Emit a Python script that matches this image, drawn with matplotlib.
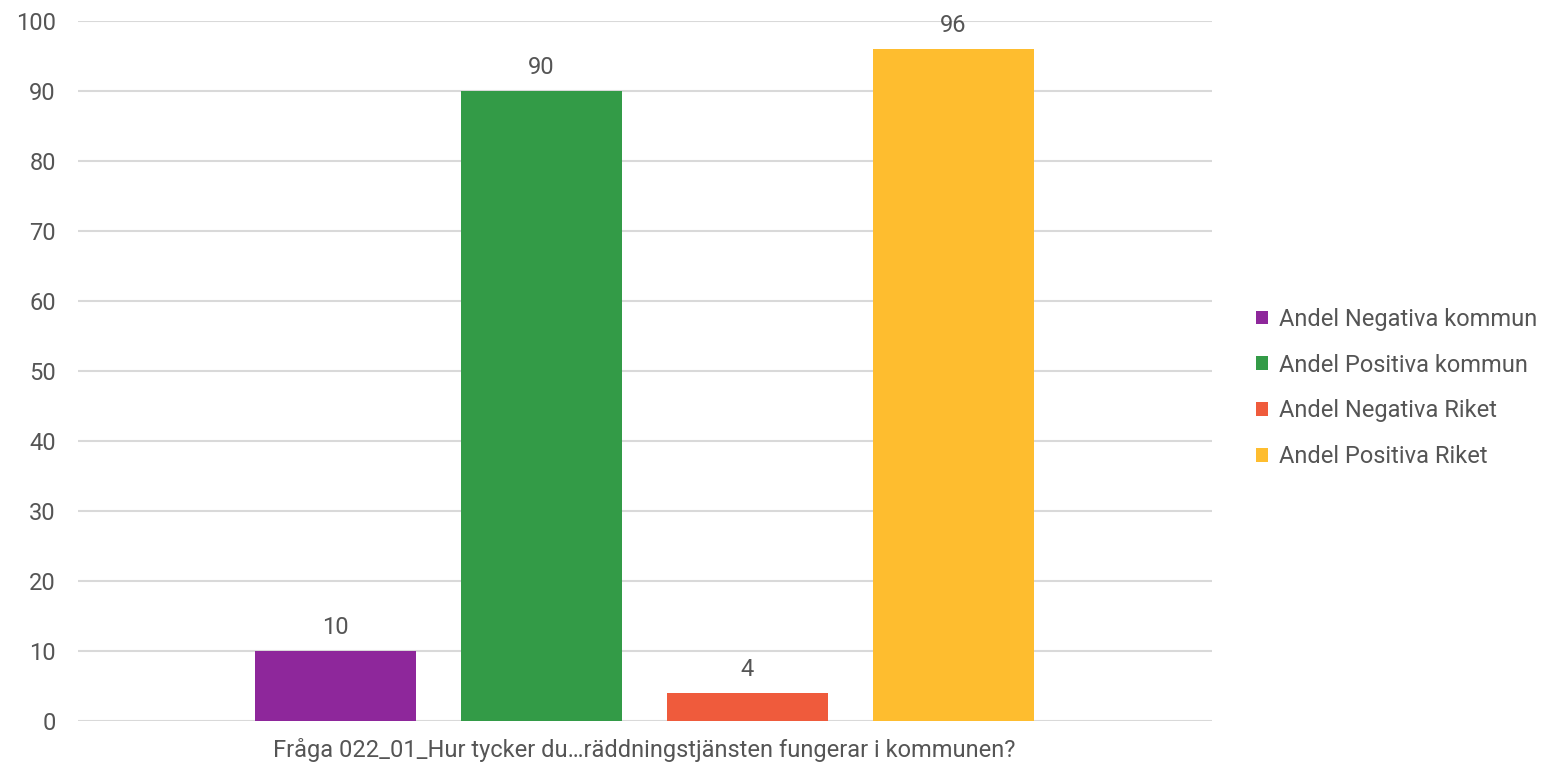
import matplotlib
matplotlib.use("Agg")
import matplotlib.pyplot as plt
from matplotlib.patches import Patch

plt.rcParams['font.family'] = ['Roboto', 'DejaVu Sans']

# data
series = ['Andel Negativa kommun', 'Andel Positiva kommun',
          'Andel Negativa Riket', 'Andel Positiva Riket']
values = [10, 90, 4, 96]
colors = ['#8e279b', '#339b47', '#ef5b3c', '#febd2f']
category = 'Fråga 022_01_Hur tycker du…räddningstjänsten fungerar i kommunen?'
yticks = [0, 10, 20, 30, 40, 50, 60, 70, 80, 90, 100]

txt = '#555555'
fs = 17

fig = plt.figure(figsize=(15.48, 7.66), dpi=100)
ax = fig.add_axes([78/1548, 45/766, (1212-78)/1548, (721-21)/766])

xs = range(len(values))
bars = ax.bar(xs, values, width=0.786, color=colors, zorder=3)
for b, v in zip(bars, values):
    ax.annotate(str(v), (b.get_x() + b.get_width()/2, v), xytext=(0, 8.5),
                textcoords='offset points', ha='center', va='bottom',
                fontsize=fs, color=txt)

ax.set_xlim(-1.25, 3 + 1.255)
ax.set_ylim(0, 100)
ax.set_yticks(yticks)
ax.yaxis.grid(True, color='#d9d9d9', linewidth=1.5, zorder=0)
ax.set_axisbelow(True)
ax.set_xticks([1.5])
ax.set_xticklabels([category])
ax.tick_params(axis='both', length=0, labelsize=fs, labelcolor=txt)
ax.tick_params(axis='y', pad=16)
ax.tick_params(axis='x', pad=12)
for s in ax.spines.values():
    s.set_visible(False)

handles = [Patch(facecolor=c, edgecolor='none') for c in colors]
leg = fig.legend(handles, series, loc='center left',
                 bbox_to_anchor=(1244/1548, (766-388)/766),
                 frameon=False, fontsize=fs, handlelength=0.5, handleheight=0.5,
                 handletextpad=0.5, labelspacing=0.97, borderpad=0)
for t in leg.get_texts():
    t.set_color(txt)

fig.savefig('out.png', dpi=100)
